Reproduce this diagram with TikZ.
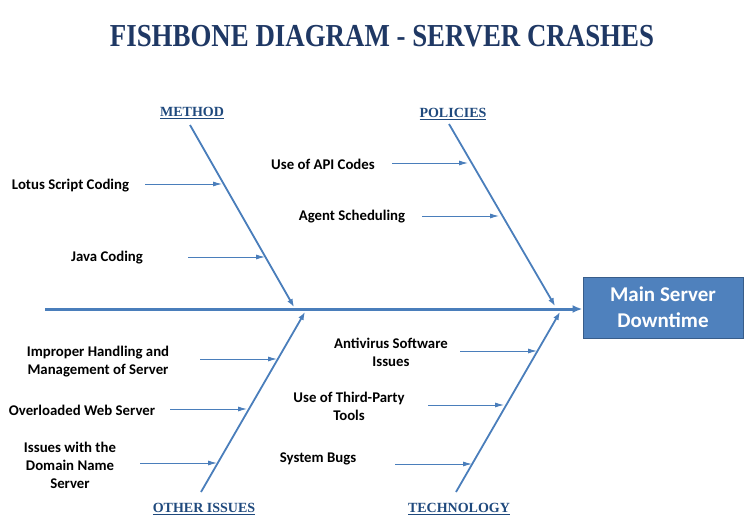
\documentclass[tikz,border=0pt]{standalone}
\usepackage{fontspec}
\setmainfont{Carlito}
\newfontfamily\titlefont{Liberation Serif}
\usetikzlibrary{arrows.meta}
\definecolor{bone}{HTML}{4A7EBB}
\definecolor{boxfill}{HTML}{4F81BD}
\definecolor{boxline}{HTML}{385D8A}
\definecolor{titlecol}{HTML}{1F3864}
\definecolor{catcol}{HTML}{1F497D}
\tikzset{
  cause/.style={font=\bfseries\fontsize{14.8}{18}\selectfont, align=center, inner sep=0pt},
  catlabel/.style={font=\titlefont\bfseries\fontsize{14}{16}\selectfont, text=catcol, inner sep=0pt},
  bonearrow/.style={draw=bone, line width=1.8pt, -{Latex[length=8pt,width=6pt]}},
  smallarrow/.style={draw=bone, line width=0.9pt, -{Latex[length=9pt,width=5pt]}},
  spinearrow/.style={draw=bone, line width=3pt, -{Latex[length=10pt,width=8pt]}},
  effect/.style={draw=boxline, fill=boxfill, line width=1pt, minimum width=160pt, minimum height=61pt, text=white, align=center, font=\bfseries\fontsize{21}{26}\selectfont}
}
\begin{document}
\begin{tikzpicture}[x=1pt,y=-1pt]
\useasboundingbox (0,0) rectangle (751,528);
\node[font=\titlefont\bfseries\fontsize{32}{36}\selectfont, text=titlecol, inner sep=0pt] (title) at (382,36) {\scalebox{0.84}[1]{FISHBONE DIAGRAM - SERVER CRASHES}};

% effect box and spine
\node[effect] (effect) at (663,307.5) {Main Server\\Downtime};
\coordinate (tail) at (45,309);
\draw[spinearrow] (tail) -- (effect.west |- tail);

% bones
\coordinate (mTop) at (190,125); \coordinate (mEnd) at (294,307);
\coordinate (pTop) at (449,124); \coordinate (pEnd) at (555,306);
\coordinate (oBot) at (201,492); \coordinate (oEnd) at (305,312);
\coordinate (tBot) at (456,492); \coordinate (tEnd) at (560,312);
\draw[bonearrow] (mTop) -- (mEnd);
\draw[bonearrow] (pTop) -- (pEnd);
\draw[bonearrow] (oBot) -- (oEnd);
\draw[bonearrow] (tBot) -- (tEnd);

% category labels
\node[catlabel] (method) at (192,113) {\underline{METHOD}};
\node[catlabel] (policies) at (453,114) {\underline{POLICIES}};
\node[catlabel] (other) at (204,509) {\underline{OTHER ISSUES}};
\node[catlabel] (tech) at (459,509) {\underline{TECHNOLOGY}};

% method causes
\node[cause] (lotus) at (70.5,185.5) {Lotus Script Coding};
\coordinate (lotusS) at (145,184); \coordinate (lotusE) at (222,184);
\draw[smallarrow] (lotusS) -- (lotusE);
\node[cause] (java) at (107,257.5) {Java Coding};
\coordinate (javaS) at (188,257); \coordinate (javaE) at (265,257);
\draw[smallarrow] (javaS) -- (javaE);

% policies causes
\node[cause] (api) at (323,164.5) {Use of API Codes};
\coordinate (apiS) at (392,163); \coordinate (apiE) at (468,163);
\draw[smallarrow] (apiS) -- (apiE);
\node[cause] (agent) at (352,216.5) {Agent Scheduling};
\coordinate (agentS) at (422,216); \coordinate (agentE) at (499,216);
\draw[smallarrow] (agentS) -- (agentE);

% other issues causes
\node[cause] (improper) at (98,361.5) {Improper Handling and\\Management of Server};
\coordinate (impS) at (200,359); \coordinate (impE) at (277,359);
\draw[smallarrow] (impS) -- (impE);
\node[cause] (overload) at (82,410.5) {Overloaded Web Server};
\coordinate (ovS) at (170,409); \coordinate (ovE) at (247,409);
\draw[smallarrow] (ovS) -- (ovE);
\node[cause] (dns) at (70,465.5) {Issues with the\\Domain Name\\Server};
\coordinate (dnsS) at (140,463); \coordinate (dnsE) at (217,463);
\draw[smallarrow] (dnsS) -- (dnsE);

% technology causes
\node[cause] (anti) at (391,352.5) {Antivirus Software\\Issues};
\coordinate (antiS) at (460,351); \coordinate (antiE) at (537,351);
\draw[smallarrow] (antiS) -- (antiE);
\node[cause] (third) at (349,406.5) {Use of Third-Party\\Tools};
\coordinate (thirdS) at (428,405); \coordinate (thirdE) at (504,405);
\draw[smallarrow] (thirdS) -- (thirdE);
\node[cause] (bugs) at (318,458.5) {System Bugs};
\coordinate (bugsS) at (395,464); \coordinate (bugsE) at (472,464);
\draw[smallarrow] (bugsS) -- (bugsE);
\end{tikzpicture}
\end{document}
